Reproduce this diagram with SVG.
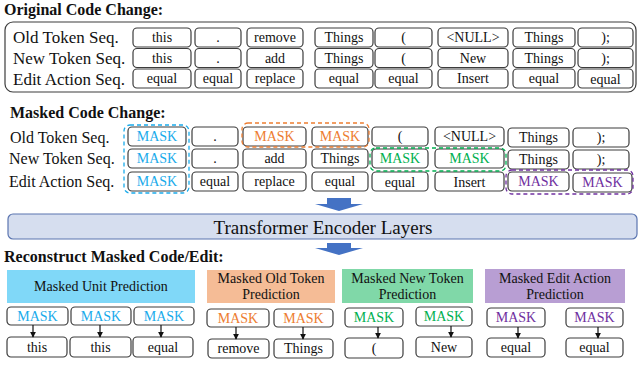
<svg xmlns="http://www.w3.org/2000/svg" width="639" height="367" viewBox="0 0 639 367">
<defs>
<style>
text { font-family: "Liberation Serif", "Times New Roman", serif; fill: #111; }
.tk { fill: #fff; stroke: #3c3c3c; stroke-width: 1.2; }
.t { font-size: 14px; text-anchor: middle; }
.lbl { font-size: 17px; }
.lbl2 { font-size: 16px; }
.ttl { font-size: 16px; font-weight: bold; }
.hd { font-size: 14px; text-anchor: middle; }
.b { fill: #1AABEB; }
.o { fill: #ED7D31; }
.g { fill: #00B050; }
.p { fill: #7030A0; }
.dash { fill: none; stroke-width: 1.3; stroke-dasharray: 4 3; }
.blk { fill: #4472C4; }
.con { stroke: #111; stroke-width: 1.2; fill: none; marker-end: url(#ah); }
</style>
<marker id="ah" viewBox="0 0 8 8" refX="7" refY="4" markerWidth="6" markerHeight="6" markerUnits="userSpaceOnUse" orient="auto">
<path d="M0,0 L8,4 L0,8 z" fill="#111"/>
</marker>
</defs>

<!-- Original Code Change -->
<text class="ttl" x="4" y="15">Original Code Change:</text>
<rect x="5" y="22" width="631" height="70" rx="8" fill="none" stroke="#3c3c3c" stroke-width="1.2"/>
<text class="lbl" x="13" y="43">Old Token Seq.</text>
<text class="lbl" x="13" y="63.5">New Token Seq.</text>
<text class="lbl" x="13" y="84.5">Edit Action Seq.</text>

<g id="orig-old">
<g id="o1"><rect class="tk" x="133" y="28" width="58" height="19" rx="4"/><text class="t" x="162" y="42">this</text></g>
<g id="o2"><rect class="tk" x="195" y="28" width="46" height="19" rx="4"/><text class="t" x="218" y="42">.</text></g>
<g id="o3"><rect class="tk" x="247" y="28" width="56" height="19" rx="4"/><text class="t" x="275" y="42">remove</text></g>
<g id="o4"><rect class="tk" x="315" y="28" width="58" height="19" rx="4"/><text class="t" x="344" y="42">Things</text></g>
<g id="o5"><rect class="tk" x="375" y="28" width="57" height="19" rx="4"/><text class="t" x="403.5" y="42">(</text></g>
<g id="o6"><rect class="tk" x="438" y="28" width="70" height="19" rx="4"/><text class="t" x="473" y="42">&lt;NULL&gt;</text></g>
<g id="o7"><rect class="tk" x="513" y="28" width="62" height="19" rx="4"/><text class="t" x="544" y="42">Things</text></g>
<g id="o8"><rect class="tk" x="578" y="28" width="55" height="19" rx="4"/><text class="t" x="605.5" y="42">);</text></g>
</g>
<g id="orig-new">
<g id="n1"><rect class="tk" x="133" y="48.5" width="58" height="19" rx="4"/><text class="t" x="162" y="62.5">this</text></g>
<g id="n2"><rect class="tk" x="195" y="48.5" width="46" height="19" rx="4"/><text class="t" x="218" y="62.5">.</text></g>
<g id="n3"><rect class="tk" x="247" y="48.5" width="56" height="19" rx="4"/><text class="t" x="275" y="62.5">add</text></g>
<g id="n4"><rect class="tk" x="315" y="48.5" width="58" height="19" rx="4"/><text class="t" x="344" y="62.5">Things</text></g>
<g id="n5"><rect class="tk" x="375" y="48.5" width="57" height="19" rx="4"/><text class="t" x="403.5" y="62.5">(</text></g>
<g id="n6"><rect class="tk" x="438" y="48.5" width="70" height="19" rx="4"/><text class="t" x="473" y="62.5">New</text></g>
<g id="n7"><rect class="tk" x="513" y="48.5" width="62" height="19" rx="4"/><text class="t" x="544" y="63">Things</text></g>
<g id="n8"><rect class="tk" x="578" y="48.5" width="55" height="19" rx="4"/><text class="t" x="605.5" y="63">);</text></g>
</g>
<g id="orig-edit">
<g id="e1"><rect class="tk" x="133" y="69" width="58" height="19" rx="4"/><text class="t" x="162" y="83">equal</text></g>
<g id="e2"><rect class="tk" x="195" y="69" width="46" height="19" rx="4"/><text class="t" x="218" y="83">equal</text></g>
<g id="e3"><rect class="tk" x="247" y="69" width="56" height="19" rx="4"/><text class="t" x="275" y="83">replace</text></g>
<g id="e4"><rect class="tk" x="315" y="69" width="58" height="19" rx="4"/><text class="t" x="344" y="83">equal</text></g>
<g id="e5"><rect class="tk" x="375" y="69" width="57" height="19" rx="4"/><text class="t" x="403.5" y="83">equal</text></g>
<g id="e6"><rect class="tk" x="438" y="69" width="70" height="19" rx="4"/><text class="t" x="473" y="83">Insert</text></g>
<g id="e7"><rect class="tk" x="513" y="69" width="62" height="19" rx="4"/><text class="t" x="544" y="83">equal</text></g>
<g id="e8"><rect class="tk" x="578" y="69" width="55" height="19" rx="4"/><text class="t" x="605.5" y="84">equal</text></g>
</g>

<!-- Masked Code Change -->
<text class="ttl" x="10" y="118">Masked Code Change:</text>
<text class="lbl2" x="10" y="143">Old Token Seq.</text>
<text class="lbl2" x="9" y="164">New Token Seq.</text>
<text class="lbl2" x="9" y="187">Edit Action Seq.</text>

<g id="mask-old">
<g id="mo1"><rect class="tk" x="128" y="127" width="58" height="19" rx="4"/><text class="t b" x="157" y="141">MASK</text></g>
<g id="mo2"><rect class="tk" x="192" y="127" width="46" height="19" rx="4"/><text class="t" x="215" y="141">.</text></g>
<g id="mo3"><rect class="tk" x="243" y="127" width="63" height="19" rx="4"/><text class="t o" x="274.5" y="141">MASK</text></g>
<g id="mo4"><rect class="tk" x="312" y="127" width="56" height="19" rx="4"/><text class="t o" x="340" y="141">MASK</text></g>
<g id="mo5"><rect class="tk" x="372" y="127" width="56" height="19" rx="4"/><text class="t" x="400" y="141">(</text></g>
<g id="mo6"><rect class="tk" x="435" y="127" width="69" height="19" rx="4"/><text class="t" x="469.5" y="141">&lt;NULL&gt;</text></g>
<g id="mo7"><rect class="tk" x="508" y="128" width="61" height="19" rx="4"/><text class="t" x="538.5" y="142">Things</text></g>
<g id="mo8"><rect class="tk" x="573" y="128" width="56" height="19" rx="4"/><text class="t" x="601" y="142">);</text></g>
</g>
<g id="mask-new">
<g id="mn1"><rect class="tk" x="128" y="149" width="58" height="19" rx="4"/><text class="t b" x="157" y="163">MASK</text></g>
<g id="mn2"><rect class="tk" x="192" y="149" width="46" height="19" rx="4"/><text class="t" x="215" y="163">.</text></g>
<g id="mn3"><rect class="tk" x="243" y="149" width="63" height="19" rx="4"/><text class="t" x="274.5" y="163">add</text></g>
<g id="mn4"><rect class="tk" x="312" y="149" width="56" height="19" rx="4"/><text class="t" x="340" y="163">Things</text></g>
<g id="mn5"><rect class="tk" x="372" y="149" width="56" height="19" rx="4"/><text class="t g" x="400" y="163">MASK</text></g>
<g id="mn6"><rect class="tk" x="435" y="149" width="69" height="19" rx="4"/><text class="t g" x="469.5" y="163">MASK</text></g>
<g id="mn7"><rect class="tk" x="508" y="150" width="61" height="19" rx="4"/><text class="t" x="538.5" y="164">Things</text></g>
<g id="mn8"><rect class="tk" x="573" y="150" width="56" height="19" rx="4"/><text class="t" x="601" y="164">);</text></g>
</g>
<g id="mask-edit">
<g id="me1"><rect class="tk" x="128" y="172" width="58" height="19" rx="4"/><text class="t b" x="157" y="186">MASK</text></g>
<g id="me2"><rect class="tk" x="192" y="172" width="46" height="19" rx="4"/><text class="t" x="215" y="186">equal</text></g>
<g id="me3"><rect class="tk" x="243" y="172" width="63" height="19" rx="4"/><text class="t" x="274.5" y="186">replace</text></g>
<g id="me4"><rect class="tk" x="312" y="172" width="56" height="19" rx="4"/><text class="t" x="340" y="186">equal</text></g>
<g id="me5"><rect class="tk" x="372" y="172" width="56" height="19" rx="4"/><text class="t" x="400" y="187">equal</text></g>
<g id="me6"><rect class="tk" x="435" y="172" width="69" height="19" rx="4"/><text class="t" x="469.5" y="187">Insert</text></g>
<g id="me7"><rect class="tk" x="508" y="172" width="61" height="19" rx="4"/><text class="t p" x="538.5" y="186">MASK</text></g>
<g id="me8"><rect class="tk" x="573" y="173" width="59" height="19" rx="4"/><text class="t p" x="602.5" y="187">MASK</text></g>
</g>

<g id="mask-groups">
<rect class="dash" x="124" y="125" width="65" height="68" rx="6" stroke="#1AABEB"/>
<rect class="dash" x="242" y="123" width="127" height="24" rx="6" stroke="#ED7D31"/>
<rect class="dash" x="370" y="148" width="136" height="23" rx="6" stroke="#00B050"/>
<rect class="dash" x="506" y="170" width="127" height="24" rx="6" stroke="#7030A0"/>
</g>

<!-- Transformer -->
<g id="arrow-in"><polygon class="blk" points="327,198 351,198 351,204 363,204 339,211 315,204 327,204"/></g>
<g id="transformer">
<rect x="8" y="214" width="629" height="25" rx="5" fill="#D6DEEF" stroke="#5B75B0" stroke-width="1.2"/>
<text x="323" y="234" font-size="19" text-anchor="middle">Transformer Encoder Layers</text>
</g>
<g id="arrow-out"><polygon class="blk" points="327,243 351,243 351,248 363,248 339,255 315,248 327,248"/></g>

<!-- Reconstruct -->
<text class="ttl" x="4" y="262">Reconstruct Masked Code/Edit:</text>

<g id="hdr-unit"><rect x="7" y="270" width="188" height="33" fill="#80D8F8"/><text class="hd" x="101" y="291">Masked Unit Prediction</text></g>
<g id="hdr-old"><rect x="207" y="270" width="128" height="33" fill="#F5BC96"/><text class="hd" x="271" y="283">Masked Old Token</text><text class="hd" x="271" y="299">Prediction</text></g>
<g id="hdr-new"><rect x="342" y="269" width="131" height="34" fill="#80D8A8"/><text class="hd" x="407.5" y="283">Masked New Token</text><text class="hd" x="407.5" y="299">Prediction</text></g>
<g id="hdr-edit"><rect x="485" y="269" width="140" height="34" fill="#B89ED3"/><text class="hd" x="555" y="283">Masked Edit Action</text><text class="hd" x="555" y="299">Prediction</text></g>

<g id="u-m1"><rect class="tk" x="7" y="307" width="61" height="18" rx="4"/><text class="t b" x="37.5" y="321">MASK</text></g>
<g id="u-m2"><rect class="tk" x="71" y="307" width="60" height="18" rx="4"/><text class="t b" x="101" y="321">MASK</text></g>
<g id="u-m3"><rect class="tk" x="134" y="307" width="60" height="18" rx="4"/><text class="t b" x="164" y="321">MASK</text></g>
<g id="u-r1"><rect class="tk" x="7" y="337" width="60" height="20" rx="4"/><text class="t" x="37" y="352">this</text></g>
<g id="u-r2"><rect class="tk" x="70" y="337" width="61" height="20" rx="4"/><text class="t" x="100.5" y="352">this</text></g>
<g id="u-r3"><rect class="tk" x="133" y="337" width="60" height="20" rx="4"/><text class="t" x="163" y="352">equal</text></g>

<g id="o-m1"><rect class="tk" x="207" y="309" width="62" height="18" rx="4"/><text class="t o" x="238" y="323">MASK</text></g>
<g id="o-m2"><rect class="tk" x="274" y="309" width="59" height="18" rx="4"/><text class="t o" x="303.5" y="323">MASK</text></g>
<g id="o-r1"><rect class="tk" x="208" y="339" width="61" height="19" rx="4"/><text class="t" x="238.5" y="353">remove</text></g>
<g id="o-r2"><rect class="tk" x="274" y="339" width="59" height="19" rx="4"/><text class="t" x="303.5" y="353">Things</text></g>

<g id="g-m1"><rect class="tk" x="345" y="308" width="58" height="19" rx="4"/><text class="t g" x="374" y="322">MASK</text></g>
<g id="g-m2"><rect class="tk" x="416" y="307" width="56" height="19" rx="4"/><text class="t g" x="444" y="321">MASK</text></g>
<g id="g-r1"><rect class="tk" x="345" y="338" width="58" height="20" rx="4"/><text class="t" x="374" y="353">(</text></g>
<g id="g-r2"><rect class="tk" x="416" y="337" width="56" height="20" rx="4"/><text class="t" x="444" y="352">New</text></g>

<g id="p-m1"><rect class="tk" x="487" y="308" width="58" height="19" rx="4"/><text class="t p" x="516" y="322">MASK</text></g>
<g id="p-m2"><rect class="tk" x="566" y="308" width="57" height="19" rx="4"/><text class="t p" x="594.5" y="322">MASK</text></g>
<g id="p-r1"><rect class="tk" x="487" y="338" width="58" height="19" rx="4"/><text class="t" x="516" y="352">equal</text></g>
<g id="p-r2"><rect class="tk" x="566" y="338" width="57" height="19" rx="4"/><text class="t" x="594.5" y="352">equal</text></g>

<g id="connectors">
<line class="con" x1="33" y1="325" x2="33" y2="337"/>
<line class="con" x1="100" y1="325" x2="100" y2="337"/>
<line class="con" x1="161" y1="325" x2="161" y2="337"/>
<line class="con" x1="236" y1="327" x2="236" y2="339"/>
<line class="con" x1="303" y1="327" x2="303" y2="339"/>
<line class="con" x1="378" y1="327" x2="378" y2="338"/>
<line class="con" x1="451" y1="326" x2="451" y2="337"/>
<line class="con" x1="518" y1="327" x2="518" y2="338"/>
<line class="con" x1="598" y1="327" x2="598" y2="338"/>
</g>
</svg>
